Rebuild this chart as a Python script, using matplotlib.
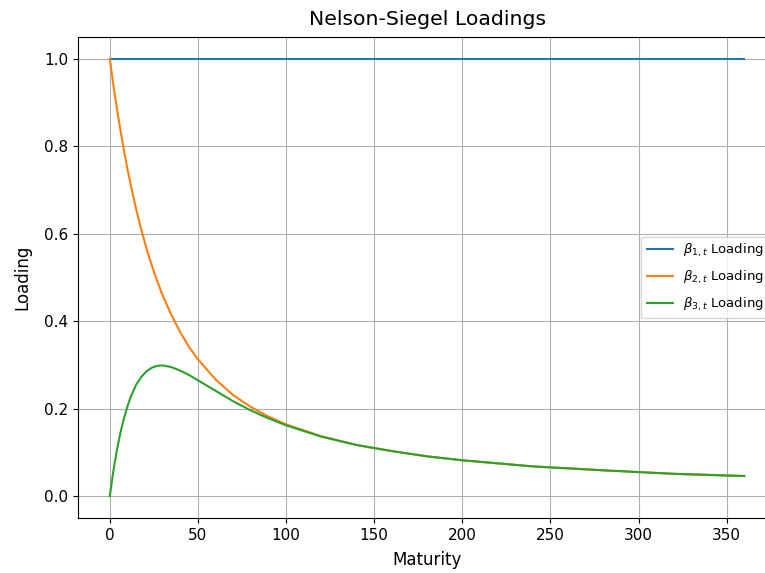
import numpy as np
import matplotlib
matplotlib.use('Agg')
import matplotlib.pyplot as plt

# Valores (madurez en meses)
maturity = [0, 2, 4, 6, 8, 10, 12, 15, 18, 21, 24, 27, 30, 35, 40, 45, 50, 60, 70,
            80, 90, 100, 120, 140, 160, 180, 200, 240, 280, 320, 360]
beta1_load = [1.0] * len(maturity)
beta2_load = [1.0, 0.942, 0.888, 0.838, 0.792, 0.749, 0.710, 0.656, 0.608, 0.564,
              0.526, 0.491, 0.459, 0.414, 0.375, 0.341, 0.313, 0.267, 0.231,
              0.204, 0.182, 0.164, 0.137, 0.117, 0.103, 0.091, 0.082, 0.068,
              0.059, 0.051, 0.046]
beta3_load = [0.0, 0.056, 0.104, 0.144, 0.177, 0.205, 0.228, 0.255, 0.273, 0.286,
              0.294, 0.298, 0.299, 0.295, 0.287, 0.277, 0.265, 0.241, 0.217,
              0.196, 0.178, 0.162, 0.136, 0.117, 0.103, 0.091, 0.082, 0.068,
              0.059, 0.051, 0.046]

fig = plt.figure(figsize=(7.65, 5.73), dpi=100)
ax = fig.add_axes([0.102, 0.096, 0.9124, 0.8394])

ax.plot(maturity, beta1_load, label=r'$\beta_{1,t}$ Loading')
ax.plot(maturity, beta2_load, label=r'$\beta_{2,t}$ Loading')
ax.plot(maturity, beta3_load, label=r'$\beta_{3,t}$ Loading')

ax.tick_params(labelsize=11)
ax.set_xlabel('Maturity', fontsize=12, labelpad=6)
ax.set_ylabel('Loading', fontsize=12, labelpad=9)
ax.set_title('Nelson-Siegel Loadings', fontsize=14.7, pad=9)
ax.grid(True)
ax.legend(loc='center right', fontsize=9.5, labelspacing=0.75)

plt.savefig('out.png', dpi=100)
plt.close()
